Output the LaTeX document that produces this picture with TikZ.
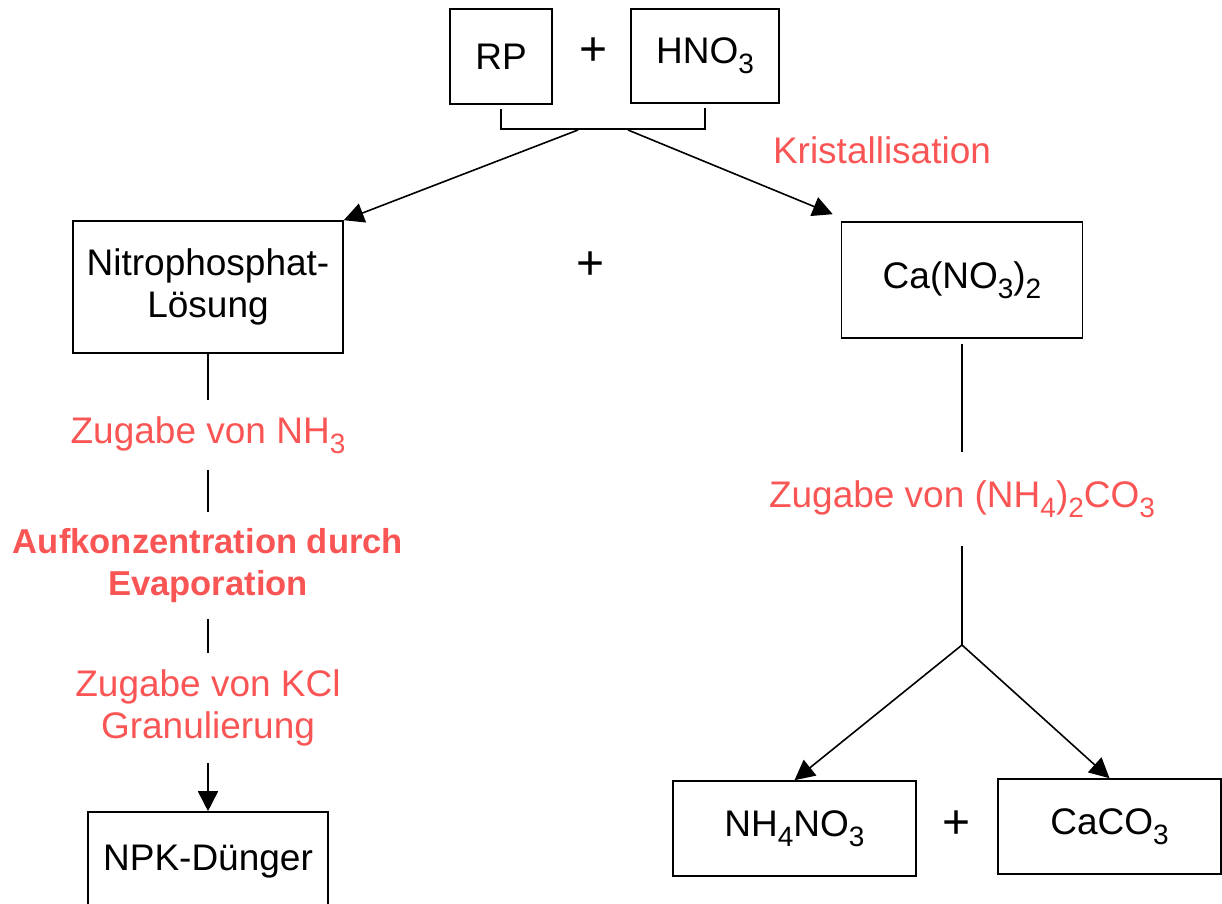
\documentclass[tikz,border=0pt]{standalone}
\usepackage{fontspec}
\setmainfont{Liberation Sans}
\usetikzlibrary{arrows.meta}
\definecolor{labelred}{RGB}{250,85,85}
\newcommand{\idx}[1]{\raisebox{-5pt}{\fontsize{14}{14}\selectfont #1}}
\tikzset{
  box/.style={draw, inner sep=0pt, align=center},
  lbl/.style={text=labelred, align=center, inner xsep=0pt, inner ysep=8pt},
  plus/.style={font=\fontsize{24}{24}\selectfont},
  arr/.style={-{Triangle[length=10pt,width=10pt]}}
}
\begin{document}
\begin{tikzpicture}[x=0.5pt, y=-0.5pt, line width=0.8pt, font=\fontsize{18.5}{21}\selectfont]
   \useasboundingbox (0,0) rectangle (1222,904);
   % educts
   \node at (501,56.5) [box, minimum width=51pt, minimum height=47.5pt] (rp) {RP};
   \node at (594,52) [plus] (p1) {+};
   \node at (705,56) [box, minimum width=74pt, minimum height=47pt] (hno) {HNO\idx{3}};
   \draw ([yshift=-2pt]rp.south) -- ++(0,20) -| ([yshift=-2pt]hno.south);
   \coordinate (kl) at (578,130);
   \coordinate (kr) at (628,130);
   \node at (882,150) [lbl] (kris) {Kristallisation};
   % split
   \node at (208,287) [box, minimum width=135pt, minimum height=66pt] (nps) {Nitrophosphat-\\Lösung};
   \node at (591,266) [plus] (p2) {+};
   \node at (962,280) [box, minimum width=120.5pt, minimum height=58pt] (cano) {Ca(NO\idx{3})\idx{2}};
   \draw[arr] (kl) -- (nps.north east);
   \draw[arr] (kr) -- ([xshift=-4pt,yshift=3.5pt]cano.north west);
   % left branch
   \node at (208,435) [lbl] (zn) {Zugabe von NH\idx{3}};
   \node at (208,565.5) [lbl, font=\bfseries\fontsize{17.3}{21}\selectfont] (ae) {Aufkonzentration durch\\Evaporation};
   \node at (208,708) [lbl] (zk) {Zugabe von KCl\\Granulierung};
   \node at (208,862) [box, minimum width=120pt, minimum height=50pt] (npk) {NPK-Dünger};
   \draw (nps) -- (zn) (zn) -- (ae) (ae) -- (zk);
   \draw[arr] (zk) -- (npk);
   % right branch
   \node at (962,499) [lbl, inner ysep=14pt] (zc) {Zugabe von (NH\idx{4})\idx{2}CO\idx{3}};
   \coordinate (fk) at (962,645);
   \node at (794.5,828.5) [box, minimum width=121.5pt, minimum height=47.5pt] (nh) {NH\idx{4}NO\idx{3}};
   \node at (957,825) [plus] (p3) {+};
   \node at (1109.5,826.5) [box, minimum width=111.5pt, minimum height=47.5pt] (cc) {CaCO\idx{3}};
   \draw ([yshift=-2.5pt]cano.south) -- (zc.north) (zc) -- (fk);
   \draw[arr] (fk) -- (nh.north);
   \draw[arr] (fk) -- (cc.north);
\end{tikzpicture}
\end{document}
